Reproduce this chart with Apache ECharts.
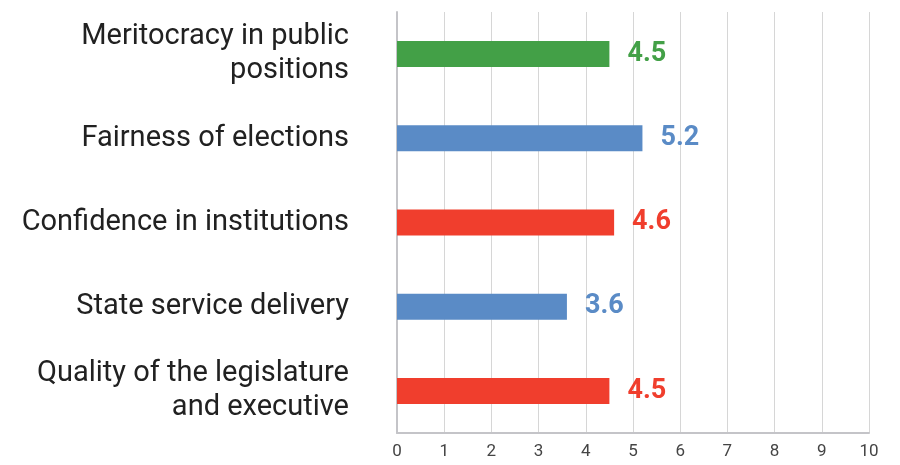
<!DOCTYPE html>
<html>
<head>
<meta charset="utf-8">
<script src="https://cdn.jsdelivr.net/npm/echarts@6/dist/echarts.min.js"></script>
<style>
  html, body { margin: 0; padding: 0; background: #fff; }
  #chart { width: 900px; height: 465px; }
</style>
</head>
<body>
<div id="chart"></div>
<script>
// top to bottom, as in the picture
const categories = [
  'Meritocracy in public positions',
  'Fairness of elections',
  'Confidence in institutions',
  'State service delivery',
  'Quality of the legislature and executive'
]
const scores = [4.5, 5.2, 4.6, 3.6, 4.5]
const barColors = ['#43a047', '#5a8bc6', '#f03e2d', '#5a8bc6', '#f03e2d']
const xTicks = [0, 1, 2, 3, 4, 5, 6, 7, 8, 9, 10]

// greedy word wrap so wrapped lines keep no trailing space
function wrap(text, maxChars) {
  const lines = []
  let line = ''
  text.split(' ').forEach(w => {
    if (line && (line + ' ' + w).length > maxChars) {
      lines.push(line)
      line = w
    } else {
      line = line ? line + ' ' + w : w
    }
  })
  lines.push(line)
  return lines.join('\n')
}

const chart = echarts.init(document.getElementById('chart'))
chart.setOption({
  animation: false,
  textStyle: { fontFamily: 'Roboto' },
  grid: { left: 397, right: 31, top: 12, bottom: 32 },
  xAxis: {
    type: 'value',
    min: xTicks[0],
    max: xTicks[xTicks.length - 1],
    interval: 1,
    axisLine: { show: true, lineStyle: { color: '#c4c4c8', width: 2 } },
    axisTick: { show: false },
    axisLabel: { color: '#444', fontSize: 17, margin: 10 },
    splitLine: { lineStyle: { color: '#d6d6d6', width: 1 } }
  },
  yAxis: {
    type: 'category',
    inverse: true,
    data: categories,
    axisLine: { show: true, lineStyle: { color: '#c4c4c8', width: 2 } },
    axisTick: { show: false },
    axisLabel: {
      color: '#212121',
      fontSize: 29,
      margin: 48,
      lineHeight: 34,
      align: 'right',
      formatter: v => wrap(v, 26)
    }
  },
  series: [{
    type: 'bar',
    barWidth: 26,
    data: scores.map((v, i) => ({ value: v, itemStyle: { color: barColors[i] } })),
    label: {
      show: true,
      position: 'right',
      distance: 18,
      fontSize: 27,
      fontWeight: 'bold',
      formatter: p => p.value.toFixed(1),
      color: 'inherit'
    }
  }]
})
</script>
</body>
</html>
